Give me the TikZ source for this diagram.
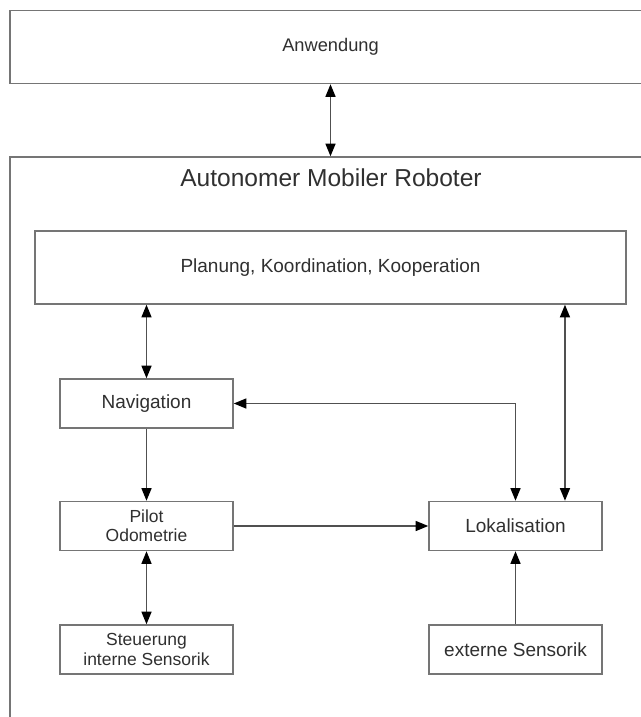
\documentclass[tikz,border=0pt]{standalone}
\usepackage{fontspec}
\setmainfont{Liberation Sans}
\usetikzlibrary{arrows.meta}
\definecolor{txt}{HTML}{303030}
\definecolor{frame}{HTML}{757575}
\definecolor{wire}{HTML}{505050}
\begin{document}
\begin{tikzpicture}[x=0.75pt,y=-0.75pt,
  tip/.tip={Triangle[length=9.5pt,width=7.5pt,fill=black,color=black]},
  box/.style={draw=frame,line width=1.1pt,fill=white,inner sep=0pt,
    minimum width=129.75pt,minimum height=36.75pt,align=center,
    text=txt,font=\fontsize{14.25}{17}\selectfont},
  twoline/.style={box,font=\fontsize{13.1}{14.3}\selectfont},
  wide/.style={box,minimum height=54.75pt},
  link/.style={draw=wire,line width=1.2pt,-tip},
  biglink/.style={draw=wire,line width=1.2pt,tip-tip}]
\useasboundingbox (0,0) rectangle (641,717);
\fill[white] (0,0) rectangle (641,717);

% outer frames, open to the right (and bottom)
\node[wide,minimum width=480.75pt,font=\fontsize{13.7}{16}\selectfont] (app) at (330.5,47) {Anwendung};
\node[draw=frame,line width=1.1pt,minimum width=480.75pt,minimum height=437.25pt,inner sep=0pt] (robot) at (330.5,448.5) {};
\node[text=txt,font=\fontsize{18.4}{22}\selectfont] (title) at (331,177.5) {Autonomer Mobiler Roboter};

% inner components
\node[wide,minimum width=443.25pt] (plan) at (330.5,267.5) {Planung, Koordination, Kooperation};
\node[box] (nav) at (146.5,403.5) {Navigation};
\node[twoline] (pilot) at (146.5,526) {Pilot\\Odometrie};
\node[box] (lok) at (515.5,526) {Lokalisation};
\node[twoline] (steu) at (146.5,649.5) {Steuerung\\interne Sensorik};
\node[box] (ext) at (515.5,649.5) {externe Sensorik};

% connections
\draw[biglink] (app.south) -- (robot.north);
\draw[biglink] (plan.south -| nav.north) -- (nav.north);
\draw[link] (nav.south) -- (pilot.north);
\draw[link] (pilot.east) -- (lok.west);
\draw[biglink] (nav.east) -| (lok.north);
\draw[biglink] ([xshift=37.1pt]lok.north |- plan.south) -- ([xshift=37.1pt]lok.north);
\draw[biglink] (pilot.south) -- (steu.north);
\draw[link] (ext.north) -- (lok.south);
\end{tikzpicture}
\end{document}
